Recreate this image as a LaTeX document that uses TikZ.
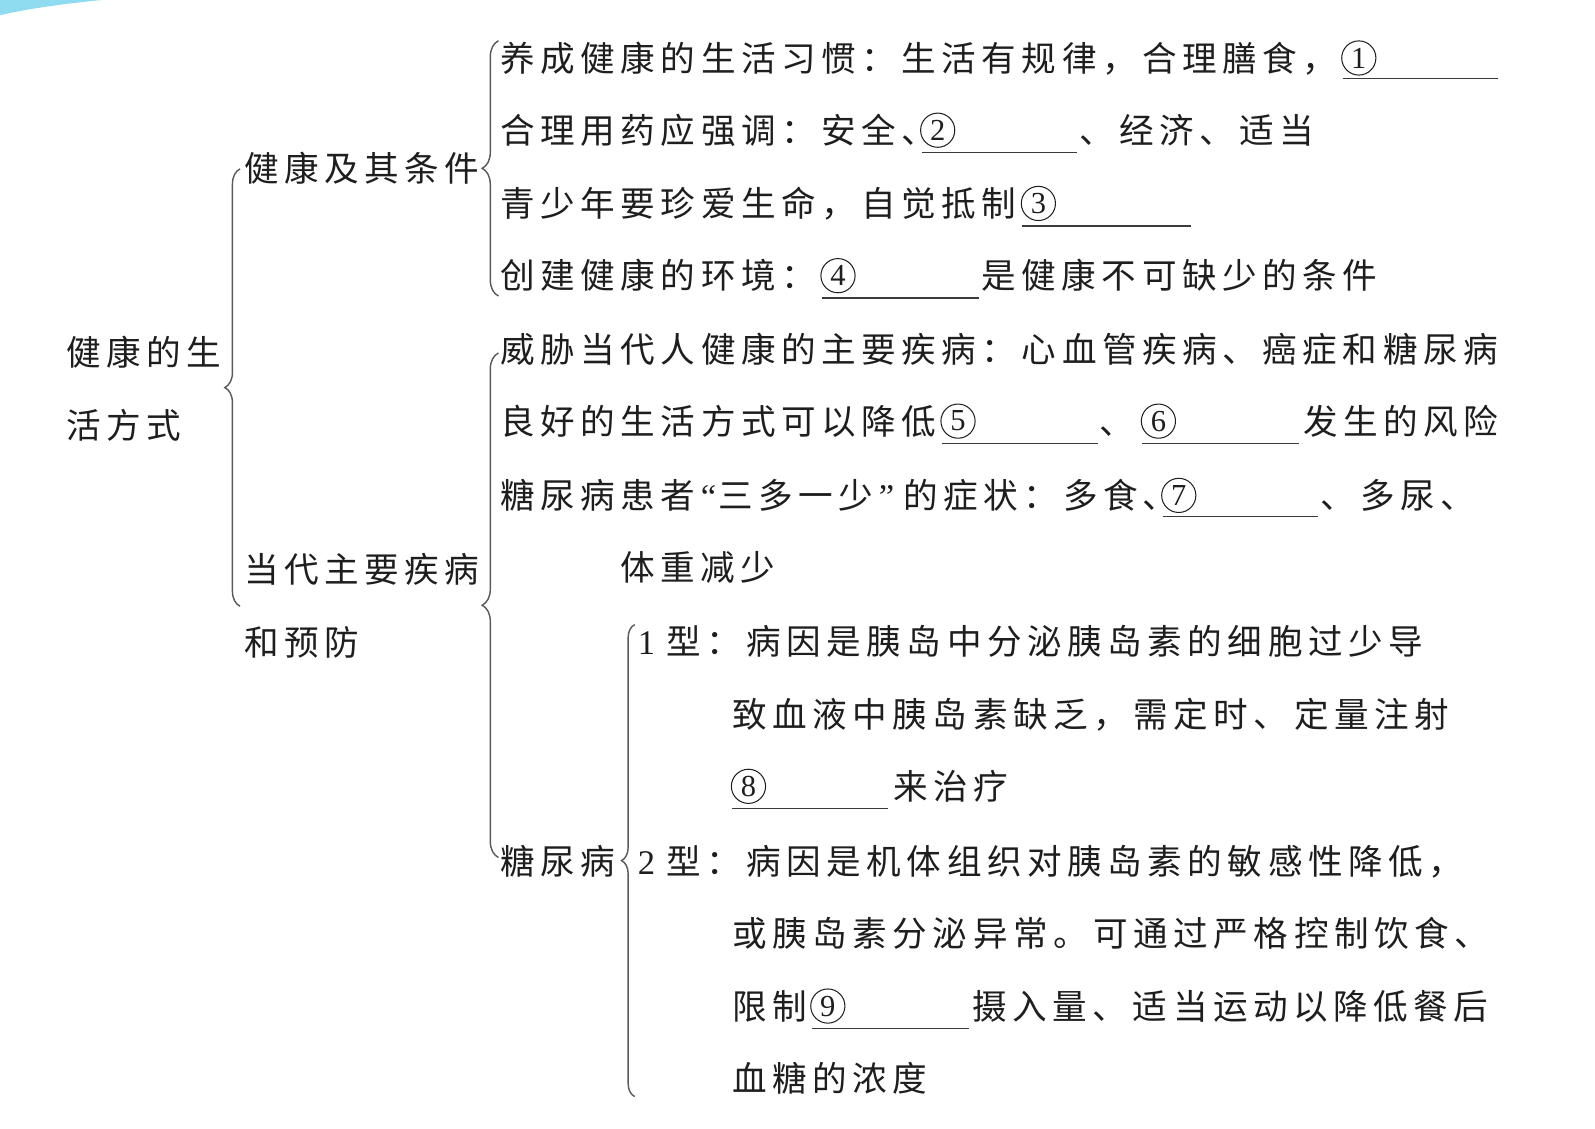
\documentclass[tikz,border=0pt]{standalone}
\usepackage{fontspec}
\setmainfont{Noto Sans CJK SC}
\newfontfamily\cjk[LetterSpace=16]{Noto Sans CJK SC}
\newfontfamily\lat[LetterSpace=16]{Liberation Serif}
\newfontfamily\dig{Liberation Serif}
\usetikzlibrary{decorations.pathreplacing}
\definecolor{ink}{HTML}{1E1E1E}
\definecolor{brc}{HTML}{5A5A5A}
\definecolor{ulc}{HTML}{3A3A3A}
\definecolor{streak}{HTML}{8FDCF0}
\tikzset{
  txt/.style={anchor=base west, inner sep=0pt, outer sep=0pt, text=ink,
    font=\cjk\fontsize{17pt}{20pt}\selectfont},
  num/.style={anchor=base west, inner sep=0pt, outer sep=0pt, text=ink,
    font=\lat\fontsize{17pt}{20pt}\selectfont},
  circnum/.style={circle, draw=ink, line width=0.5pt, minimum size=16.8pt,
    inner sep=0pt, outer sep=0pt, anchor=west, text=ink,
    font=\dig\fontsize{15pt}{15pt}\selectfont},
  uline/.style={draw=ulc, line width=0.7pt},
  bracestyle/.style={draw=brc, line width=0.7pt, decorate,
    decoration={brace, amplitude=#1}},
}
\newcommand{\halfdun}{\makebox[8.5pt][l]{、}}
\begin{document}
\begin{tikzpicture}[x=0.5pt, y=-0.5pt]
\useasboundingbox (0,0) rectangle (1568,1109);
\fill[white] (0,0) rectangle (1568,1109);
\fill[streak] (0,0) -- (100,0) .. controls (60,4) and (25,9) .. (0,15) -- cycle;

% left column
\node[txt] (root1) at (65,359) {健康的生};
\node[txt] (root2) at (65,431) {活方式};
\node[txt] (h1) at (240,178) {健康及其条件};
\node[txt] (h2a) at (240,573) {当代主要疾病};
\node[txt] (h2b) at (240,644) {和预防};

% braces
\coordinate (b1t) at (236,166); \coordinate (b1b) at (236,596);
\draw[bracestyle=7.5pt] (b1b) -- (b1t);
\coordinate (b2t) at (490,40); \coordinate (b2b) at (490,291);
\draw[bracestyle=8pt] (b2b) -- (b2t);
\coordinate (b3t) at (490,347); \coordinate (b3b) at (490,843);
\draw[bracestyle=8pt] (b3b) -- (b3t);
\coordinate (b4t) at (624,614); \coordinate (b4b) at (624,1078);
\draw[bracestyle=6.5pt] (b4b) -- (b4t);

% row A
\node[txt] (a1) at (492,70) {养成健康的生活习惯：生活有规律，合理膳食，};
\node[circnum] (c1) at (1319,57) {1};
\coordinate (u1a) at (1320,77); \coordinate (u1b) at (1473,77);
\draw[uline] (u1a) -- (u1b);

% row B
\node[txt] (b1) at (492,141) {合理用药应强调：安全};
\node[txt] (b1p) at (886,141) {\halfdun};
\node[circnum] (c2) at (905,128) {2};
\coordinate (u2a) at (906,150); \coordinate (u2b) at (1059,150);
\draw[uline] (u2a) -- (u2b);
\node[txt] (b2) at (1061,141) {、经济、适当};

% row C
\node[txt] (cc1) at (492,213) {青少年要珍爱生命，自觉抵制};
\node[circnum] (c3) at (1004,200) {3};
\coordinate (u3a) at (1005,222); \coordinate (u3b) at (1171,222);
\draw[uline] (u3a) -- (u3b);

% row D
\node[txt] (d1) at (492,284) {创建健康的环境：};
\node[circnum] (c4) at (807,271) {4};
\coordinate (u4a) at (808,293); \coordinate (u4b) at (962,293);
\draw[uline] (u4a) -- (u4b);
\node[txt] (d2) at (965,284) {是健康不可缺少的条件};

% row E
\node[txt] (e1) at (492,356) {威胁当代人健康的主要疾病：心血管疾病、癌症和糖尿病};

% row F
\node[txt] (f1) at (492,427) {良好的生活方式可以降低};
\node[circnum] (c5) at (925,414) {5};
\coordinate (u5a) at (926,436); \coordinate (u5b) at (1079,436);
\draw[uline] (u5a) -- (u5b);
\node[txt] (f1p) at (1081,427) {\halfdun};
\node[circnum] (c6) at (1122,414) {6};
\coordinate (u6a) at (1123,436); \coordinate (u6b) at (1277,436);
\draw[uline] (u6a) -- (u6b);
\node[txt] (f2) at (1281,427) {发生的风险};

% row G
\node[txt] (g1) at (492,500) {糖尿病患者};
\node[num] (g1q) at (689,500) {“};
\node[txt] (g1b) at (706,500) {三多一少};
\node[num] (g1r) at (864,500) {”};
\node[txt] (g1c) at (888,500) {的症状：多食};
\node[txt] (g1p) at (1123,500) {\halfdun};
\node[circnum] (c7) at (1142,487) {7};
\coordinate (u7a) at (1143,508); \coordinate (u7b) at (1296,508);
\draw[uline] (u7a) -- (u7b);
\node[txt] (g2) at (1298,500) {、多尿、};
\node[txt] (g3) at (610,571) {体重减少};

% diabetes
\node[txt] (tn) at (492,860) {糖尿病};
\node[num] (t1n) at (627,643) {1};
\node[txt] (t1a) at (655,643) {型：病因是胰岛中分泌胰岛素的细胞过少导};
\node[txt] (t1b) at (720,715) {致血液中胰岛素缺乏，需定时、定量注射};
\node[circnum] (c8) at (719,773) {8};
\coordinate (u8a) at (720,795); \coordinate (u8b) at (873,795);
\draw[uline] (u8a) -- (u8b);
\node[txt] (t1c) at (878,786) {来治疗};

\node[num] (t2n) at (627,860) {2};
\node[txt] (t2a) at (655,860) {型：病因是机体组织对胰岛素的敏感性降低，};
\node[txt] (t2b) at (720,930) {或胰岛素分泌异常。可通过严格控制饮食、};
\node[txt] (t2c) at (720,1002) {限制};
\node[circnum] (c9) at (797,989) {9};
\coordinate (u9a) at (798,1011); \coordinate (u9b) at (953,1011);
\draw[uline] (u9a) -- (u9b);
\node[txt] (t2d) at (956,1002) {摄入量、适当运动以降低餐后};
\node[txt] (t2e) at (720,1073) {血糖的浓度};
\end{tikzpicture}
\end{document}
